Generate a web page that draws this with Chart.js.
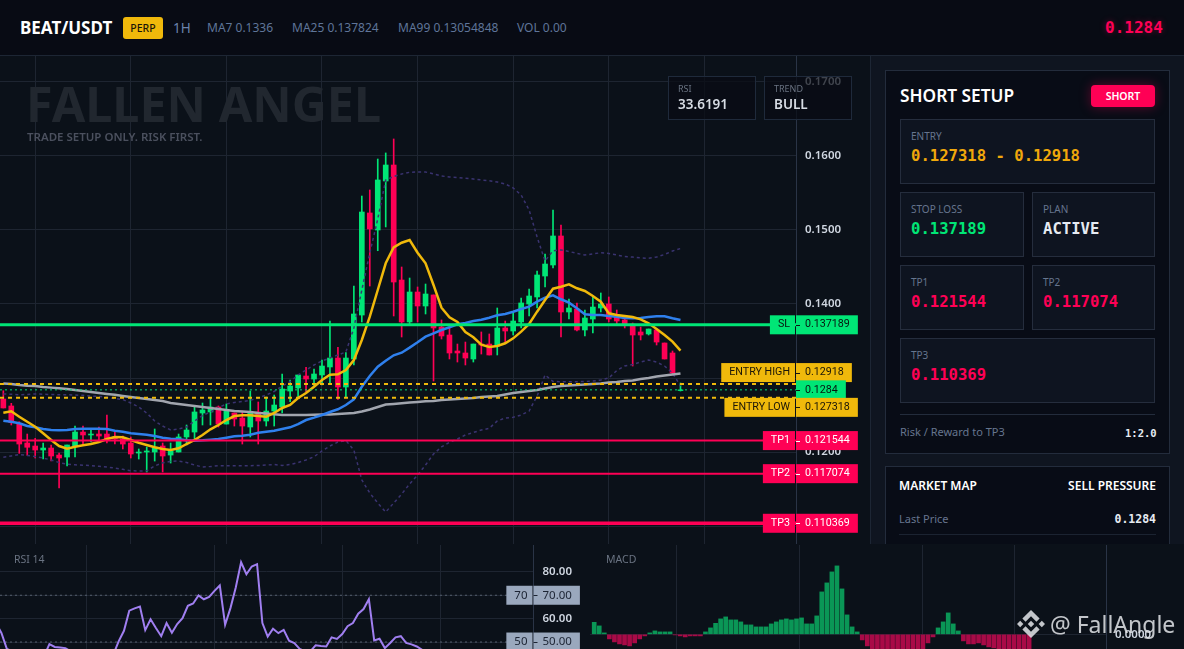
<!DOCTYPE html>
<html>
<head>
<meta charset="utf-8">
<title>BEAT/USDT</title>
<script src="https://cdn.jsdelivr.net/npm/chart.js@4"></script>
<style>
    * { box-sizing: border-box; }
    html, body { margin: 0; width: 1184px; height: 649px; overflow: hidden; background: #0b1119; font-family: "Noto Sans", sans-serif; }
    canvas { position: absolute; display: block; }
    .abs { position: absolute; white-space: nowrap; }
    .mono { font-family: "DejaVu Sans Mono", monospace; font-weight: 700; }
    .header { left: 0; top: 0; width: 1184px; height: 56px; background: #080b14; border-bottom: 1px solid #1d2634; }
    .meta { top: 19px; font-size: 12px; line-height: 18px; color: #5f7599; }
    .stat { top: 76px; width: 88px; height: 44px; background: rgba(8, 11, 20, 0.72); border: 1px solid #1f2a3b; }
    .stat .lab { left: 9px; top: 6px; font-size: 9px; line-height: 12px; color: #6a7382; }
    .stat .val { left: 9px; top: 18px; font-size: 13.5px; line-height: 18px; font-weight: 600; color: #d7dce4; }
    .side { left: 870px; top: 56px; width: 314px; height: 488px; background: #0f1520; border-left: 1px solid #1d2634; }
    .card { left: 885px; width: 285px; background: #080c16; border: 1px solid #232c3c; }
    .box { background: #0e1420; border: 1px solid #252d3d; }
    .box .lab { left: 10px; top: 9px; font-size: 10px; line-height: 14px; color: #66758e; }
    .box .val { left: 10px; top: 26px; font-size: 15.6px; line-height: 20px; }
    .red { color: #ff0055; }
    .pname { top: 552px; font-size: 10.5px; line-height: 14px; color: #6a7382; }
    .mark { left: 1050px; top: 609px; font-size: 23px; line-height: 30px; color: rgba(226, 228, 232, 0.86); }
</style>
</head>
<body>
<canvas id="priceChart" width="870" height="488" style="left:0;top:56px"></canvas>
<canvas id="rsiChart" width="590" height="104" style="left:0;top:545px"></canvas>
<canvas id="macdChart" width="594" height="104" style="left:590px;top:545px"></canvas>

<div class="abs header"></div>
<div class="abs" style="left:20px;top:16px;font-size:17px;line-height:24px;font-weight:700;color:#fff">BEAT/USDT</div>
<div class="abs" style="left:123px;top:17px;width:40px;height:22px;border-radius:3px;background:#f0b90b;color:#1b1608;font-size:10.5px;line-height:22px;text-align:center;font-weight:500">PERP</div>
<div class="abs meta" style="left:173px;font-size:13.5px;color:#6b83ab">1H</div>
<div class="abs meta" style="left:207px">MA7 0.1336</div>
<div class="abs meta" style="left:292px">MA25 0.137824</div>
<div class="abs meta" style="left:398px">MA99 0.13054848</div>
<div class="abs meta" style="left:517px">VOL 0.00</div>
<div class="abs mono red" style="left:1105px;top:17px;font-size:16px;line-height:22px;text-shadow:0 0 6px rgba(255,0,85,.35)">0.1284</div>

<div class="abs" style="left:26px;top:68px;font-size:48.5px;line-height:70px;font-weight:700;color:#21272f">FALLEN ANGEL</div>
<div class="abs" style="left:27px;top:129px;font-size:11.5px;line-height:16px;font-weight:600;color:#4b505e">TRADE SETUP ONLY. RISK FIRST.</div>

<div class="abs stat" style="left:668px"><div class="abs lab">RSI</div><div class="abs val">33.6191</div></div>
<div class="abs stat" style="left:764px"><div class="abs lab">TREND</div><div class="abs val">BULL</div></div>

<div class="abs side"></div>
<div class="abs card" style="top:70px;height:384px"></div>
<div class="abs" style="left:900px;top:84px;font-size:17.3px;line-height:24px;font-weight:600;color:#fff">SHORT SETUP</div>
<div class="abs" style="left:1091px;top:85px;width:64px;height:22px;border-radius:4px;background:#ff0055;color:#fff;font-size:10.5px;line-height:22px;text-align:center;font-weight:600;box-shadow:0 0 12px rgba(255,0,85,.35)">SHORT</div>

<div class="abs box" style="left:900px;top:119px;width:255px;height:65px"><div class="abs lab">ENTRY</div><div class="abs val mono" style="color:#f0a80b">0.127318 - 0.12918</div></div>
<div class="abs box" style="left:900px;top:192px;width:124px;height:65px"><div class="abs lab">STOP LOSS</div><div class="abs val mono" style="color:#00e676">0.137189</div></div>
<div class="abs box" style="left:1032px;top:192px;width:123px;height:65px"><div class="abs lab">PLAN</div><div class="abs val mono" style="color:#e6ebf2">ACTIVE</div></div>
<div class="abs box" style="left:900px;top:265px;width:124px;height:65px"><div class="abs lab">TP1</div><div class="abs val mono red">0.121544</div></div>
<div class="abs box" style="left:1032px;top:265px;width:123px;height:65px"><div class="abs lab">TP2</div><div class="abs val mono red">0.117074</div></div>
<div class="abs box" style="left:900px;top:338px;width:255px;height:65px"><div class="abs lab">TP3</div><div class="abs val mono red">0.110369</div></div>
<div class="abs" style="left:900px;top:414px;width:255px;height:1px;background:#232c3c"></div>
<div class="abs" style="left:900px;top:424px;font-size:11px;line-height:16px;color:#66758e">Risk / Reward to TP3</div>
<div class="abs mono" style="left:1125px;top:425px;font-size:10.5px;line-height:16px;color:#e6ebf2">1:2.0</div>

<div class="abs card" style="top:466px;height:78px;border-bottom:none"></div>
<div class="abs" style="left:899px;top:478px;font-size:12px;line-height:16px;font-weight:600;color:#fff">MARKET MAP</div>
<div class="abs" style="right:28px;top:478px;font-size:12px;line-height:16px;font-weight:600;color:#fff">SELL PRESSURE</div>
<div class="abs" style="left:899px;top:511px;font-size:11px;line-height:16px;color:#66758e">Last Price</div>
<div class="abs mono" style="right:28px;top:511px;font-size:11.5px;line-height:16px;color:#e6ebf2">0.1284</div>
<div class="abs" style="left:899px;top:534px;width:257px;height:1px;background:#1b2331"></div>

<div class="abs pname" style="left:14px">RSI 14</div>
<div class="abs pname" style="left:606px">MACD</div>

<svg class="abs" style="left:1017px;top:610px" width="28" height="28" viewBox="0 0 126 126" fill="rgba(226,228,232,.86)">
    <path d="M38.5 53L63 28.5 87.5 53l14.3-14.3L63 0 24.2 38.7z"/>
    <path d="M0 63l14.3-14.3L28.6 63 14.3 77.3z"/>
    <path d="M38.5 73L63 97.5 87.5 73l14.3 14.3L63 126 24.2 87.3z"/>
    <path d="M97.4 63l14.3-14.3L126 63l-14.3 14.3z"/>
    <path d="M77.5 63L63 48.5 48.5 63 63 77.5z"/>
</svg>
<div class="abs mark">@ FallAngle</div>

<script>
// Candles, one entry per hour
const opens = [0.12716,0.12622,0.12374,0.12122,0.12081,0.12027,0.12054,0.11959,0.11932,0.12081,0.1227,0.1223,0.12243,0.12243,0.12203,0.12176,0.12122,0.11986,0.12,0.12,0.12081,0.11959,0.12,0.12203,0.1227,0.12527,0.12541,0.12608,0.12378,0.12527,0.12459,0.12338,0.12541,0.12419,0.12554,0.12608,0.12824,0.12865,0.13027,0.12986,0.13041,0.13149,0.1327,0.12878,0.13257,0.13851,0.1523,0.15,0.15662,0.15878,0.14324,0.13757,0.14162,0.13973,0.14122,0.13689,0.13581,0.13365,0.13338,0.13257,0.13459,0.13459,0.13432,0.13676,0.13635,0.13757,0.14,0.14095,0.14378,0.14527,0.14919,0.13892,0.13932,0.13649,0.13797,0.13946,0.14,0.13838,0.13784,0.1373,0.13622,0.13595,0.13649,0.13473,0.13338,0.1283];
const closes = [0.12595,0.12396,0.12108,0.12064,0.12027,0.12054,0.11946,0.11919,0.12095,0.1227,0.1223,0.12243,0.12216,0.12176,0.12176,0.12108,0.11973,0.12,0.12014,0.12054,0.11946,0.12014,0.12203,0.12297,0.12541,0.12568,0.12608,0.12378,0.12554,0.12446,0.12351,0.12541,0.12419,0.12554,0.12635,0.12851,0.12892,0.13041,0.12986,0.13054,0.13162,0.1327,0.12878,0.1327,0.13865,0.15243,0.15014,0.15676,0.15878,0.14297,0.13757,0.14162,0.13973,0.14135,0.13676,0.13568,0.13338,0.13338,0.1327,0.13459,0.13446,0.13311,0.13676,0.13635,0.1377,0.14014,0.14108,0.14392,0.1454,0.14919,0.13892,0.13946,0.13649,0.13811,0.13959,0.14,0.13797,0.1377,0.13716,0.13581,0.13581,0.13662,0.13486,0.13257,0.13068,0.1284];
const highs = [0.12828,0.12658,0.12409,0.12243,0.12185,0.12122,0.12095,0.11986,0.12095,0.12351,0.12351,0.12297,0.12338,0.125,0.1227,0.12216,0.12203,0.12041,0.12068,0.12311,0.12122,0.12122,0.12243,0.12365,0.12622,0.12662,0.1273,0.12622,0.12649,0.12527,0.12554,0.12824,0.12676,0.12743,0.1277,0.13054,0.12973,0.13041,0.13145,0.13122,0.13243,0.1377,0.13415,0.13342,0.14243,0.15459,0.15541,0.15959,0.16041,0.1623,0.145,0.14351,0.1423,0.1427,0.14122,0.13784,0.13689,0.13459,0.13486,0.13459,0.13622,0.13595,0.13946,0.1377,0.13892,0.14081,0.14203,0.14446,0.14676,0.1527,0.15068,0.14068,0.14014,0.13919,0.14095,0.14149,0.14095,0.13919,0.13838,0.13743,0.13689,0.13662,0.13662,0.13473,0.13365,0.12932];
const lows = [0.12595,0.12365,0.11982,0.11955,0.11919,0.11905,0.11878,0.11514,0.11811,0.11932,0.12108,0.12135,0.12162,0.12122,0.12108,0.12041,0.11919,0.11905,0.1173,0.11878,0.1173,0.11851,0.12,0.12095,0.12162,0.12365,0.12365,0.12338,0.12378,0.12351,0.12108,0.12203,0.12108,0.12351,0.12351,0.12527,0.1268,0.12743,0.12815,0.12882,0.12905,0.12932,0.12712,0.12747,0.13176,0.13757,0.14243,0.1472,0.15041,0.13838,0.13554,0.1373,0.13757,0.13865,0.12959,0.13527,0.13257,0.13216,0.13176,0.13216,0.13324,0.13311,0.13311,0.13486,0.13581,0.13676,0.13838,0.13946,0.1423,0.14486,0.13554,0.13797,0.13635,0.13568,0.13608,0.13892,0.13757,0.13716,0.13676,0.13162,0.13514,0.13581,0.13446,0.13257,0.13054,0.12824];

// Moving averages
const ma7 = [0.12531,0.1255,0.12477,0.12409,0.12342,0.12253,0.12162,0.12081,0.12045,0.12072,0.12091,0.12108,0.12135,0.12176,0.12203,0.12199,0.12162,0.12126,0.12095,0.12064,0.12041,0.12027,0.1205,0.12108,0.12162,0.1223,0.12307,0.12365,0.12432,0.12486,0.12496,0.12496,0.12486,0.12477,0.12527,0.12595,0.12635,0.1273,0.12797,0.12882,0.12973,0.13045,0.1305,0.13108,0.13243,0.13514,0.13828,0.14189,0.1455,0.14766,0.14828,0.14865,0.14693,0.1455,0.14257,0.1395,0.1382,0.13757,0.13622,0.1355,0.1345,0.13419,0.13432,0.13469,0.13536,0.13626,0.1373,0.13896,0.14054,0.14207,0.14234,0.14266,0.14212,0.14176,0.14108,0.14031,0.13874,0.13851,0.13838,0.13824,0.13793,0.13739,0.13662,0.13581,0.13491,0.13369];
const ma25 = [0.12423,0.12409,0.12388,0.12351,0.12334,0.12311,0.12297,0.12293,0.12297,0.12311,0.12315,0.12315,0.12315,0.12311,0.12288,0.12274,0.12253,0.12243,0.12234,0.12216,0.12193,0.1218,0.12172,0.12158,0.12153,0.12158,0.12166,0.12176,0.12193,0.12212,0.1222,0.12234,0.12261,0.12274,0.12288,0.12311,0.12334,0.12378,0.12432,0.12464,0.125,0.12541,0.12577,0.12635,0.12712,0.12882,0.13027,0.13153,0.13234,0.13307,0.13342,0.1341,0.13482,0.13558,0.13604,0.13649,0.13685,0.13726,0.13743,0.1377,0.13788,0.13815,0.13847,0.13865,0.13896,0.13932,0.13964,0.14031,0.14085,0.14118,0.14064,0.14018,0.13942,0.13861,0.13851,0.13851,0.13838,0.13828,0.13811,0.13807,0.13811,0.13824,0.13834,0.13834,0.13807,0.13784];
const ma99 = [0.12927,0.12919,0.12905,0.12896,0.12892,0.12878,0.1287,0.12861,0.12851,0.12838,0.12824,0.12811,0.12797,0.12784,0.12773,0.12757,0.12743,0.1273,0.12716,0.12703,0.12689,0.12662,0.12649,0.12635,0.12622,0.12608,0.12595,0.12581,0.12568,0.12554,0.12547,0.12541,0.12527,0.1252,0.12509,0.125,0.125,0.125,0.125,0.12504,0.12507,0.12507,0.12514,0.1252,0.12527,0.12547,0.12574,0.12608,0.12642,0.12649,0.12658,0.12669,0.12676,0.12685,0.12689,0.12703,0.12709,0.12716,0.12723,0.1273,0.12743,0.1275,0.12757,0.12777,0.12797,0.12811,0.12824,0.12838,0.12858,0.12878,0.12892,0.12899,0.12905,0.12912,0.12919,0.12926,0.12939,0.12946,0.12959,0.12966,0.12986,0.13,0.1302,0.13034,0.13047,0.13061];

// Bollinger bands
const bbUpper = [0.12784,0.1278,0.12774,0.12777,0.12784,0.12781,0.12777,0.12774,0.12773,0.1277,0.12766,0.12757,0.1275,0.12739,0.12723,0.12709,0.12662,0.12608,0.12527,0.12419,0.12351,0.12297,0.12311,0.12338,0.12419,0.12493,0.12541,0.12601,0.12649,0.12669,0.12682,0.12699,0.1273,0.1277,0.12818,0.12892,0.1295,0.13041,0.13108,0.13176,0.1323,0.1327,0.13311,0.13351,0.13676,0.14189,0.14689,0.15149,0.15676,0.15723,0.15757,0.1578,0.15784,0.15784,0.15757,0.1573,0.15716,0.1571,0.15699,0.15689,0.15676,0.15666,0.15649,0.15622,0.15568,0.15473,0.1527,0.14905,0.14581,0.1472,0.1473,0.1471,0.14683,0.14662,0.14676,0.14693,0.14683,0.14662,0.14642,0.14635,0.14622,0.14618,0.14635,0.14669,0.14716,0.1475];
const bbLower = [0.11928,0.11946,0.11966,0.11953,0.11939,0.11919,0.11892,0.11858,0.11834,0.11827,0.11822,0.11816,0.11808,0.11797,0.11784,0.11766,0.11747,0.11743,0.11747,0.11811,0.11854,0.11874,0.11878,0.11858,0.11824,0.11797,0.11804,0.11815,0.11815,0.11815,0.11815,0.11815,0.11818,0.11824,0.11831,0.11818,0.11831,0.11858,0.11892,0.11936,0.12014,0.12081,0.12135,0.12155,0.12027,0.11622,0.11446,0.11311,0.11189,0.11311,0.11432,0.11568,0.11689,0.11824,0.11973,0.12068,0.12131,0.12176,0.1223,0.12264,0.12297,0.1232,0.12419,0.12459,0.12469,0.125,0.12554,0.12757,0.13041,0.12953,0.1295,0.1295,0.1295,0.12953,0.12959,0.12973,0.13,0.13101,0.13162,0.13182,0.13216,0.13243,0.13216,0.13162,0.13068,0.12892];

// Trade levels
const stopLoss = 0.137189;
const entryHigh = 0.12918;
const entryLow = 0.127318;
const lastPrice = 0.1284;
const tp1 = 0.121544;
const tp2 = 0.117074;
const tp3 = 0.110369;
const priceTicks = [0.11, 0.12, 0.13, 0.14, 0.15, 0.16, 0.17];

// Oscillators
const rsiValues = [58.1,53.8,47.1,46,44,43,42,43,45,44,49.1,47.9,47.7,47.4,46,45,44,44,45,44,45,46,44.6,50.3,54.8,63.4,64.4,65.2,55.1,59.7,56,52.5,58.1,54,57.7,60.2,65.5,66.5,69.9,68.3,69.3,71.9,74.2,57.4,64.5,73.3,84.1,79,82.3,83.3,58.1,52.3,55.7,53.8,55.2,50.6,49.6,47.1,46,46,48.6,48.3,48.1,52,51.3,53.4,56.8,58.1,62.1,64.1,68.3,50.7,51.4,47.4,49.6,52,52.5,49.6,49,48.1,46.7,45,44,43,42,40,38,36];
const rsiTicks = [50, 60, 70, 80];
const rsiLevels = [70, 50];
const macdValues = [0.0006,0.00042,0.00007,-0.00023,-0.00038,-0.00048,-0.00053,-0.00058,-0.00043,-0.00023,-0.00008,0.00007,0.00017,0.00012,0.00012,0.00012,-0.00003,-0.00008,-0.00013,-0.00008,-0.00008,-0.00008,0.00012,0.00032,0.00055,0.00077,0.00087,0.00072,0.00072,0.00062,0.00047,0.00047,0.00037,0.00037,0.00037,0.00052,0.00062,0.00072,0.00077,0.00072,0.00077,0.00082,0.00052,0.00052,0.00092,0.00212,0.00257,0.00312,0.00342,0.00227,0.00097,0.00037,0.00012,-0.00028,-0.00058,-0.00075,-0.00085,-0.00095,-0.001,-0.00105,-0.001,-0.00095,-0.00095,-0.0009,-0.0009,-0.00085,-0.00043,-0.00013,0.00032,0.00062,0.00107,0.00052,0.00017,-0.00033,-0.00048,-0.00048,-0.00043,-0.00053,-0.00063,-0.00068,-0.00075,-0.0008,-0.00085,-0.0009,-0.00095,-0.001,-0.00105];

const green = '#00e676';
const red = '#ff0055';
const gold = '#f0b90b';
const gridColor = '#1e2531';
const fontName = '"Noto Sans", sans-serif';
const tickFont = { family: fontName, size: 11.5, weight: '600' };

// Price scale: 0.01 is 74px, one candle is 7.965px
const xMin = -0.418;
const xMax = 99.5;
const xPoints = (values) => values.map((v, i) => ({ x: i, y: v }));
const hLine = (value, from, to) => [{ x: from, y: value }, { x: to, y: value }];

function lineSet(data, color, width, order, dash) {
    return {
        type: 'line',
        data: data,
        borderColor: color,
        borderWidth: width,
        borderDash: dash || [],
        pointRadius: 0,
        tension: 0,
        order: order
    };
}

// Tag on the price axis, with an optional name box to the left of the axis
function drawTag(ctx, axisX, centerY, font, name, value, bg, fg) {
    ctx.font = font;
    ctx.textBaseline = 'middle';
    const valueWidth = ctx.measureText(value).width;
    ctx.fillStyle = bg;
    ctx.fillRect(axisX, centerY - 9.5, valueWidth + 17, 19);
    if (name) {
        const nameWidth = ctx.measureText(name).width;
        ctx.fillRect(axisX - 14 - nameWidth, centerY - 9.5, nameWidth + 13, 19);
        ctx.fillStyle = fg;
        ctx.textAlign = 'right';
        ctx.fillText(name, axisX - 6, centerY);
    }
    ctx.fillStyle = fg;
    ctx.fillRect(axisX, Math.round(centerY), 4, 1);
    ctx.textAlign = 'left';
    ctx.fillText(value, axisX + 9, centerY);
}

const priceTags = {
    id: 'priceTags',
    afterDraw(chart) {
        const ctx = chart.ctx;
        const y = chart.scales.y;
        const axisX = chart.chartArea.right;
        const font = '10.7px Roboto, sans-serif';
        ctx.save();
        drawTag(ctx, axisX, y.getPixelForValue(stopLoss), font, 'SL', '0.137189', green, '#07150f');
        drawTag(ctx, axisX, y.getPixelForValue(entryHigh) - 11.5, font, 'ENTRY HIGH', '0.12918', gold, '#1b1608');
        drawTag(ctx, axisX, y.getPixelForValue(lastPrice), font, '', '0.1284', green, '#07150f');
        drawTag(ctx, axisX, y.getPixelForValue(entryLow) + 9.5, font, 'ENTRY LOW', '0.127318', gold, '#1b1608');
        drawTag(ctx, axisX, y.getPixelForValue(tp1), font, 'TP1', '0.121544', red, '#ffffff');
        drawTag(ctx, axisX, y.getPixelForValue(tp2), font, 'TP2', '0.117074', red, '#ffffff');
        drawTag(ctx, axisX, y.getPixelForValue(tp3), font, 'TP3', '0.110369', red, '#ffffff');
        ctx.restore();
    }
};

const rsiTags = {
    id: 'rsiTags',
    afterDraw(chart) {
        const ctx = chart.ctx;
        const y = chart.scales.y;
        const axisX = chart.chartArea.right;
        ctx.save();
        rsiLevels.forEach((level) => {
            drawTag(ctx, axisX, y.getPixelForValue(level), '11.5px ' + fontName, String(level), level.toFixed(2), '#9aa8bd', '#1c2433');
        });
        ctx.restore();
    }
};

const baseOptions = {
    responsive: false,
    animation: false,
    events: [],
    layout: { padding: 0, autoPadding: false },
    plugins: { legend: { display: false }, tooltip: { enabled: false } }
};

function xAxis(min, max, gridTicks) {
    return {
        type: 'linear',
        offset: false,
        min: min,
        max: max,
        border: { display: false },
        grid: { color: gridColor, drawTicks: false, offset: false },
        ticks: { display: false, autoSkip: false },
        afterBuildTicks: (axis) => { axis.ticks = gridTicks.map((v) => ({ value: v })); }
    };
}

function yAxis(min, max, ticks, axisWidth, digits) {
    return {
        position: 'right',
        min: min,
        max: max,
        border: { color: '#2a3446' },
        grid: { color: gridColor, drawTicks: false },
        ticks: {
            color: '#cfd6e0',
            padding: 9,
            autoSkip: false,
            font: tickFont,
            callback: (v) => v.toFixed(digits)
        },
        afterBuildTicks: (axis) => { axis.ticks = ticks.map((v) => ({ value: v })); },
        // tick padding also pads the top and bottom of the plot unless removed here
        afterFit: (axis) => {
            axis.width = axisWidth;
            axis.paddingTop = 0;
            axis.paddingBottom = 0;
        }
    };
}

const candleColors = closes.map((c, i) => (c >= opens[i] ? green : red));

new Chart(document.getElementById('priceChart'), {
    data: {
        datasets: [
            {
                type: 'bar',
                data: lows.map((v, i) => ({ x: i, y: [v, highs[i]] })),
                backgroundColor: candleColors,
                barThickness: 1,
                grouped: false,
                order: 20
            },
            {
                type: 'bar',
                data: opens.map((v, i) => ({ x: i, y: [v, closes[i]] })),
                backgroundColor: candleColors,
                barThickness: 5,
                grouped: false,
                order: 19
            },
            lineSet(xPoints(bbUpper), '#3a3370', 1.5, 18, [3, 3]),
            lineSet(xPoints(bbLower), '#3a3370', 1.5, 17, [3, 3]),
            lineSet(xPoints(ma99), '#a1a5ae', 2.5, 16),
            lineSet(xPoints(ma25), '#2f80ed', 2.5, 15),
            lineSet(xPoints(ma7), gold, 2.5, 14),
            lineSet(hLine(lastPrice, xMin, xMax), green, 1, 13, [2, 3]),
            lineSet(hLine(entryHigh, xMin, xMax), gold, 2, 12, [4, 4]),
            lineSet(hLine(entryLow, xMin, xMax), gold, 2, 11, [4, 4]),
            lineSet(hLine(stopLoss, xMin, xMax), green, 3, 10),
            lineSet(hLine(tp1, xMin, xMax), red, 2, 9),
            lineSet(hLine(tp2, xMin, xMax), red, 2, 8),
            lineSet(hLine(tp3, xMin, xMax), red, 3.5, 7)
        ]
    },
    options: {
        ...baseOptions,
        scales: {
            x: xAxis(xMin, xMax, [4, 16, 28, 40, 52, 64, 76, 88]),
            y: yAxis(0.10757, 0.17351, priceTicks, 74, 4)
        }
    },
    plugins: [priceTags]
});

new Chart(document.getElementById('rsiChart'), {
    data: {
        datasets: [
            lineSet(xPoints(rsiValues), '#a07ff0', 2, 1),
            ...rsiLevels.map((v) => lineSet(hLine(v, 0.718, 101), '#55606f', 1, 2, [2, 3]))
        ]
    },
    options: {
        ...baseOptions,
        scales: {
            x: xAxis(0.718, 100.92, [17, 41, 65, 83.4]),
            y: yAxis(47.02, 91.49, rsiTicks, 56.5, 2)
        }
    },
    plugins: [rsiTags]
});

new Chart(document.getElementById('macdChart'), {
    type: 'bar',
    data: {
        datasets: [{
            data: xPoints(macdValues),
            backgroundColor: macdValues.map((v) => (v >= 0 ? '#0a9656' : '#a90a47')),
            barThickness: 4
        }]
    },
    options: {
        ...baseOptions,
        scales: {
            x: xAxis(-0.83, 101.2, [16.26, 40.6, 65, 83.2]),
            y: yAxis(-0.000735, 0.004465, [0], 78, 4)
        }
    }
});
</script>
</body>
</html>
